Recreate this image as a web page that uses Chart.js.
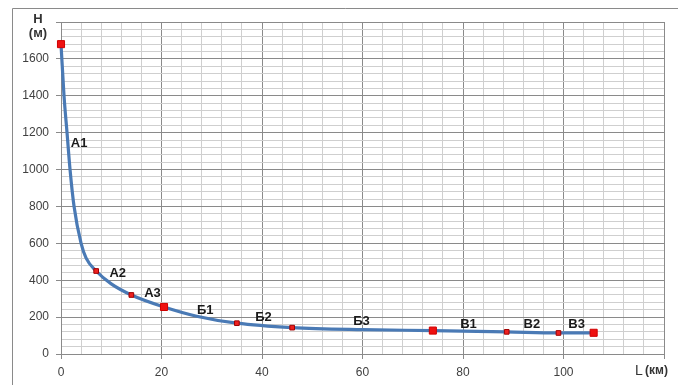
<!DOCTYPE html>
<html lang="ru">
<head>
    <meta charset="UTF-8">
    <title>Профиль H(L)</title>
    <script src="https://cdn.jsdelivr.net/npm/chart.js"></script>
    <style>
        html, body { margin: 0; padding: 0; background: #fff; }
        #wrap { position: relative; width: 678px; height: 385px; }
    </style>
</head>
<body>
    <div id="wrap"><canvas id="profileChart"></canvas></div>

    <script>
        // Curve (L in km, H in m)
        const curveL = [0, 0.6, 1.2, 1.8, 2.6, 4, 5, 7, 10, 14, 20.5, 27, 35, 46, 60, 74, 88.7, 99, 106];
        const curveH = [1680, 1400, 1200, 1000, 800, 600, 520, 450, 380, 320, 255, 205, 167, 143, 132, 127, 120, 114, 115];

        // Main stations (big squares) and intermediate ones (small squares)
        const bigL = [0, 20.5, 74, 106];
        const bigH = [1680, 255, 127, 115];
        const smallL = [7, 14, 35, 46, 88.7, 99];
        const smallH = [450, 320, 167, 143, 120, 114];

        // Section names and where they sit
        const sectionNames = ['А1', 'А2', 'А3', 'Б1', 'Б2', 'Б3', 'В1', 'В2', 'В3'];
        const sectionL = [3.6, 11.3, 18.2, 28.7, 40.3, 59.8, 81.1, 93.7, 102.6];
        const sectionH = [1141, 435, 326, 234, 196, 174, 158, 158, 158];

        const xTicks = [0, 20, 40, 60, 80, 100];
        const yTicks = [0, 200, 400, 600, 800, 1000, 1200, 1400, 1600];

        const toPoints = (xs, ys) => xs.map((x, i) => ({ x: x, y: ys[i] }));

        // outer frame, axis titles, section names
        const extras = {
            id: 'extras',
            beforeDraw(chart) {
                const c = chart.ctx;
                c.save();
                c.strokeStyle = '#8a8a8a';
                c.lineWidth = 1;
                c.beginPath();
                c.moveTo(12.5, 385);
                c.lineTo(12.5, 8.5);
                c.lineTo(678, 8.5);
                c.stroke();
                c.restore();
            },
            afterDatasetsDraw(chart) {
                const c = chart.ctx;
                const xs = chart.scales.x, ys = chart.scales.y;
                c.save();
                c.fillStyle = '#1a1a1a';
                c.textAlign = 'center';
                c.textBaseline = 'middle';
                c.font = 'bold 13px "Liberation Sans", Arial, sans-serif';
                sectionNames.forEach((name, i) => {
                    c.fillText(name, xs.getPixelForValue(sectionL[i]), ys.getPixelForValue(sectionH[i]));
                });
                c.fillStyle = '#333';
                c.fillText('H', 38, 19);
                c.fillText('(м)', 38, 33);
                c.font = '14px "Liberation Sans", Arial, sans-serif';
                c.textAlign = 'left';
                c.fillText('L', 635, 371);
                c.font = 'bold 12px "Liberation Sans", Arial, sans-serif';
                c.fillText('(км)', 645, 371);
                c.restore();
            }
        };

        const ctx = document.getElementById('profileChart').getContext('2d');
        new Chart(ctx, {
            type: 'scatter',
            data: {
                datasets: [
                    {
                        label: 'Большие',
                        data: toPoints(bigL, bigH),
                        pointStyle: 'rect',
                        pointRadius: 5,
                        backgroundColor: '#ee1111',
                        borderColor: '#d00000',
                        borderWidth: 1,
                        clip: false,
                        order: 0
                    },
                    {
                        label: 'Малые',
                        data: toPoints(smallL, smallH),
                        pointStyle: 'rect',
                        pointRadius: 3.3,
                        backgroundColor: '#ee2020',
                        borderColor: '#a00000',
                        borderWidth: 1,
                        clip: false,
                        order: 1
                    },
                    {
                        label: 'H(L)',
                        data: toPoints(curveL, curveH),
                        showLine: true,
                        borderColor: '#4a7ab5',
                        borderWidth: 3.2,
                        pointRadius: 0,
                        cubicInterpolationMode: 'monotone',
                        clip: false,
                        order: 2
                    }
                ]
            },
            options: {
                responsive: true,
                maintainAspectRatio: false,
                animation: false,
                layout: { padding: { left: 12, top: 22, right: 14, bottom: 0 } },
                plugins: {
                    legend: { display: false },
                    tooltip: { enabled: false }
                },
                scales: {
                    x: {
                        type: 'linear',
                        min: 0,
                        max: 120,
                        afterFit(scale) { scale.height = 31; },
                        ticks: {
                            stepSize: 4,
                            autoSkip: false,
                            maxRotation: 0,
                            padding: 6,
                            color: '#404040',
                            font: { size: 12, family: '"Liberation Sans", Arial, sans-serif' },
                            callback: v => xTicks.includes(v) ? v : ''
                        },
                        grid: {
                            color: c => (c.tick && c.tick.value % 20 === 0) ? '#8a8a8a' : '#cfcfcf',
                            tickColor: c => (c.tick && c.tick.value % 20 === 0) ? '#8a8a8a' : 'rgba(0,0,0,0)',
                            tickLength: 5
                        },
                        border: { color: '#8a8a8a' }
                    },
                    y: {
                        type: 'linear',
                        min: 0,
                        max: 1800,
                        afterFit(scale) { scale.width = 49; },
                        ticks: {
                            stepSize: 40,
                            autoSkip: false,
                            padding: 7,
                            color: '#404040',
                            font: { size: 12, family: '"Liberation Sans", Arial, sans-serif' },
                            callback: v => yTicks.includes(v) ? v : ''
                        },
                        grid: {
                            color: c => (c.tick && c.tick.value % 200 === 0) ? '#8a8a8a' : '#cfcfcf',
                            tickColor: c => (c.tick && c.tick.value % 200 === 0) ? '#8a8a8a' : 'rgba(0,0,0,0)',
                            tickLength: 5
                        },
                        border: { color: '#8a8a8a' }
                    }
                }
            },
            plugins: [extras]
        });
    </script>
</body>
</html>
